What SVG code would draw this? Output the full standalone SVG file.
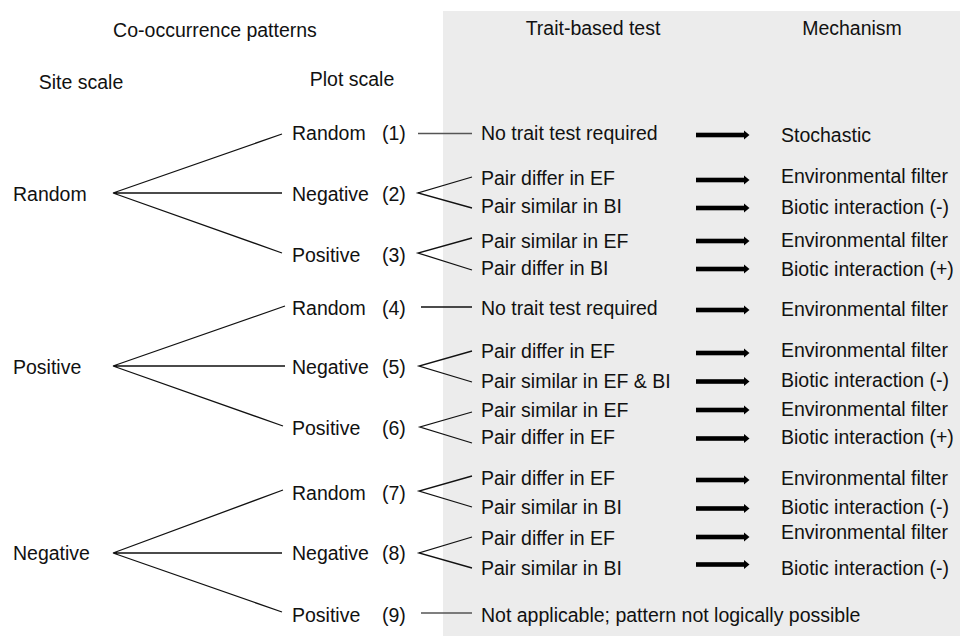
<svg xmlns="http://www.w3.org/2000/svg" width="960" height="636" viewBox="0 0 960 636">
<style>
text{font-family:"Liberation Sans",Arial,sans-serif;font-size:19.5px;fill:#111}
.h{text-anchor:middle}
.ln{stroke:#111;stroke-width:1.3;fill:none}
.lg{stroke:#555;stroke-width:1.5;fill:none}
.ar{fill:#000}
</style>
<defs>
<g id="arrow"><rect x="696" y="-2.3" width="49" height="4.6"/><polygon points="744,-4.6 749.5,0 744,4.6"/></g>
</defs>
<rect x="443" y="11" width="517" height="625" fill="#ececec"/>
<g id="headers">
<text class="h" x="215" y="37">Co-occurrence patterns</text>
<text class="h" x="593" y="35">Trait-based test</text>
<text class="h" x="852" y="35">Mechanism</text>
<text class="h" x="81" y="89">Site scale</text>
<text class="h" x="352" y="86">Plot scale</text>
</g>
<g id="site-random"><text x="13" y="201">Random</text></g>
<g id="site-positive"><text x="13" y="374">Positive</text></g>
<g id="site-negative"><text x="13" y="560">Negative</text></g>
<g id="plot-1"><text x="292" y="140">Random</text><text x="382" y="140">(1)</text></g>
<g id="plot-2"><text x="292" y="201">Negative</text><text x="382" y="201">(2)</text></g>
<g id="plot-3"><text x="292" y="261.5">Positive</text><text x="382" y="261.5">(3)</text></g>
<g id="plot-4"><text x="292" y="315">Random</text><text x="382" y="315">(4)</text></g>
<g id="plot-5"><text x="292" y="374">Negative</text><text x="382" y="374">(5)</text></g>
<g id="plot-6"><text x="292" y="435">Positive</text><text x="382" y="435">(6)</text></g>
<g id="plot-7"><text x="292" y="500">Random</text><text x="382" y="500">(7)</text></g>
<g id="plot-8"><text x="292" y="560">Negative</text><text x="382" y="560">(8)</text></g>
<g id="plot-9"><text x="292" y="621.5">Positive</text><text x="382" y="621.5">(9)</text></g>
<g id="traits">
<text x="481" y="140">No trait test required</text>
<text x="481" y="185">Pair differ in EF</text>
<text x="481" y="213">Pair similar in BI</text>
<text x="481" y="248">Pair similar in EF</text>
<text x="481" y="275">Pair differ in BI</text>
<text x="481" y="315">No trait test required</text>
<text x="481" y="358">Pair differ in EF</text>
<text x="481" y="388">Pair similar in EF &amp; BI</text>
<text x="481" y="417">Pair similar in EF</text>
<text x="481" y="443.5">Pair differ in EF</text>
<text x="481" y="485">Pair differ in EF</text>
<text x="481" y="513.5">Pair similar in BI</text>
<text x="481" y="545">Pair differ in EF</text>
<text x="481" y="575">Pair similar in BI</text>
<text x="481" y="621.5">Not applicable; pattern not logically possible</text>
</g>
<g id="mechanisms">
<text x="781" y="141.5">Stochastic</text>
<text x="781" y="183">Environmental filter</text>
<text x="781" y="214">Biotic interaction (-)</text>
<text x="781" y="246.5">Environmental filter</text>
<text x="781" y="275.5">Biotic interaction (+)</text>
<text x="781" y="315.5">Environmental filter</text>
<text x="781" y="357">Environmental filter</text>
<text x="781" y="387">Biotic interaction (-)</text>
<text x="781" y="416">Environmental filter</text>
<text x="781" y="444">Biotic interaction (+)</text>
<text x="781" y="485">Environmental filter</text>
<text x="781" y="514">Biotic interaction (-)</text>
<text x="781" y="538.5">Environmental filter</text>
<text x="781" y="575">Biotic interaction (-)</text>
</g>
<g id="connectors">
<path class="ln" d="M282,134 L113,193 L282,193 M113,193 L282,253"/>
<path class="ln" d="M285,306 L113,366 L285,366 M113,366 L283,426"/>
<path class="ln" d="M283,490 L113,553 L282,553 M113,553 L282,612"/>
<path class="lg" d="M418,133.5 H472"/>
<path class="ln" d="M472,177 L418,193 L472,208"/>
<path class="ln" d="M472,238 L418,253 L472,270"/>
<path class="ln" d="M421,307 H472"/>
<path class="ln" d="M472,351 L419,366 L472,382"/>
<path class="ln" d="M472,412 L420,427 L472,443"/>
<path class="ln" d="M472,476 L419,491 L472,507"/>
<path class="ln" d="M472,537 L419,553 L472,568"/>
<path class="lg" d="M421,613 H472"/>
<g class="ar">
<use href="#arrow" y="135"/>
<use href="#arrow" y="180"/>
<use href="#arrow" y="208"/>
<use href="#arrow" y="241"/>
<use href="#arrow" y="269"/>
<use href="#arrow" y="310"/>
<use href="#arrow" y="353"/>
<use href="#arrow" y="381.5"/>
<use href="#arrow" y="410"/>
<use href="#arrow" y="438.5"/>
<use href="#arrow" y="480"/>
<use href="#arrow" y="508.5"/>
<use href="#arrow" y="537"/>
<use href="#arrow" y="564.5"/>
</g>
</g>
</svg>
